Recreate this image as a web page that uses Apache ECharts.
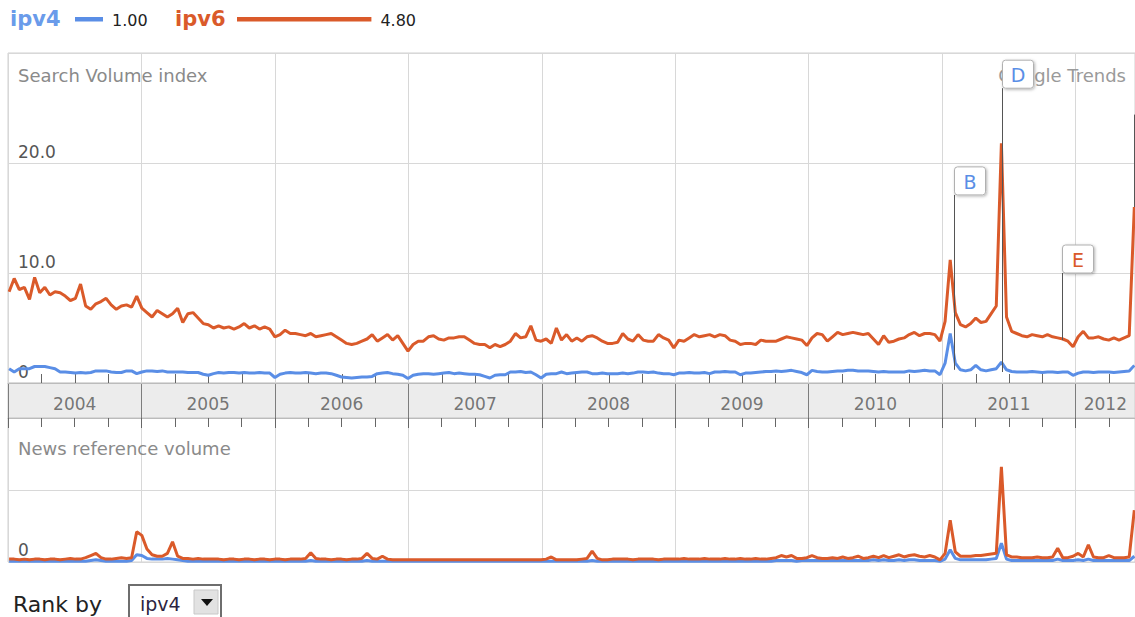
<!DOCTYPE html>
<html><head><meta charset="utf-8">
<script src="https://cdn.jsdelivr.net/npm/echarts@6/dist/echarts.min.js"></script>
<style>html,body{margin:0;padding:0;background:#fff;}#c{width:1135px;height:617px;}</style>
</head><body><div id="c"></div>
<script>
// weekly Google Trends samples, read every second week
const startDate = '2004-01-04';
const stepDays = 14;

const ipv4 = [1.3,1.0,1.3,1.3,1.3,1.5,1.5,1.5,1.4,1.3,
 1.0,1.0,0.95,0.9,0.95,0.9,0.95,1.1,1.1,1.1,
 1.0,0.95,0.95,1.1,1.1,0.85,1.0,1.1,1.1,1.05,
 1.1,1.0,1.0,1.0,1.0,0.95,0.95,0.95,0.8,0.7,
 0.85,0.95,0.9,0.95,0.95,0.9,0.95,0.9,0.9,0.95,
 0.9,0.9,0.5,0.8,0.9,0.95,0.9,0.9,0.95,0.9,
 0.85,0.9,0.9,0.85,0.7,0.55,0.5,0.45,0.5,0.55,
 0.55,0.6,0.85,0.9,0.95,0.85,0.8,0.7,0.4,0.7,
 0.8,0.85,0.85,0.8,0.85,0.9,0.95,0.85,0.9,0.85,
 0.8,0.8,0.75,0.6,0.45,0.7,0.75,0.75,1.0,1.0,
 1.05,0.95,1.0,0.75,0.45,0.8,0.85,0.85,1.0,0.85,
 0.9,0.95,1.0,1.0,0.85,0.85,0.9,0.85,0.85,0.85,
 0.9,0.85,0.9,1.0,1.0,0.95,1.0,0.9,0.85,0.85,
 0.75,0.9,0.9,0.95,0.9,0.9,0.95,0.85,1.0,1.0,
 1.05,1.0,1.0,0.75,0.9,0.9,0.95,1.0,1.05,1.05,
 1.1,1.05,1.1,1.15,1.05,0.95,0.75,1.15,1.05,1.0,
 1.0,1.05,1.1,1.1,1.15,1.15,1.1,1.1,1.1,1.05,
 1.0,1.05,1.0,1.0,1.0,1.0,1.1,1.05,1.1,1.15,
 1.1,1.1,0.75,1.8,4.5,1.8,1.2,1.1,1.2,1.6,
 1.2,1.1,1.2,1.3,1.9,1.2,1.05,1.0,1.0,1.0,
 1.05,1.0,0.95,1.0,1.0,0.95,1.0,1.0,0.7,0.9,
 1.0,1.0,0.95,1.0,1.0,1.0,0.95,1.0,1.05,1.1,
 1.6];

const ipv6 = [8.3,9.5,8.5,8.7,7.6,9.6,8.2,8.7,8.0,8.3,
 8.2,7.9,7.5,7.7,9.0,7.0,6.7,7.2,7.4,7.7,
 7.1,6.7,7.0,7.1,6.9,7.9,6.8,6.4,6.0,6.6,
 6.3,6.0,6.3,6.8,5.5,6.3,6.4,5.9,5.4,5.3,
 5.0,5.2,5.0,5.1,4.9,5.1,5.4,5.0,5.2,4.9,
 5.1,4.9,4.2,4.4,4.8,4.5,4.5,4.4,4.3,4.5,
 4.2,4.3,4.4,4.5,4.2,3.9,3.6,3.5,3.6,3.8,
 4.0,4.4,3.8,4.1,4.4,3.9,4.3,3.6,2.9,3.5,
 3.8,3.8,4.2,4.3,4.0,3.9,4.1,4.1,4.2,4.2,
 3.9,3.6,3.5,3.5,3.2,3.5,3.3,3.5,3.8,4.5,
 4.1,4.2,5.2,3.9,3.8,4.0,3.6,5.0,3.9,4.4,
 3.8,4.1,3.8,4.2,4.3,4.1,3.8,3.6,3.6,3.7,
 4.5,4.0,3.8,4.4,3.9,3.8,3.8,4.4,4.1,3.9,
 3.2,3.9,3.8,4.1,4.4,4.2,4.3,4.4,4.2,4.4,
 4.3,3.9,3.8,3.5,3.6,3.6,3.5,3.9,3.8,3.8,
 3.8,4.0,4.2,4.1,4.0,3.9,3.4,4.1,4.5,4.4,
 3.8,4.2,4.6,4.4,4.5,4.6,4.5,4.4,4.5,4.0,
 3.5,4.3,3.7,3.8,4.0,4.1,4.4,4.6,4.3,4.5,
 4.5,4.4,3.8,5.6,11.2,6.4,5.3,5.1,5.4,5.9,
 5.5,5.6,6.3,7.0,21.8,6.0,4.7,4.5,4.3,4.2,
 4.4,4.3,4.2,4.4,4.2,4.1,4.0,3.8,3.3,4.2,
 4.7,4.1,4.1,4.2,4.0,3.9,4.1,3.9,4.1,4.3,
 16.0];

const news4 = [0.1,0.1,0.1,0.1,0.1,0.1,0.1,0.1,0.1,0.1,
 0.1,0.1,0.1,0.1,0.1,0.1,0.2,0.3,0.2,0.1,
 0.1,0.1,0.1,0.1,0.2,1.0,0.9,0.5,0.4,0.4,
 0.4,0.5,0.4,0.3,0.2,0.1,0.1,0.1,0.1,0.1,
 0.1,0.1,0.1,0.1,0.1,0.1,0.1,0.1,0.1,0.1,
 0.1,0.1,0.1,0.1,0.1,0.1,0.1,0.1,0.1,0.2,
 0.1,0.1,0.1,0.1,0.1,0.1,0.1,0.1,0.1,0.1,
 0.2,0.1,0.1,0.1,0.1,0.1,0.1,0.1,0.1,0.1,
 0.1,0.1,0.1,0.1,0.1,0.1,0.1,0.1,0.1,0.1,
 0.1,0.1,0.1,0.1,0.1,0.1,0.1,0.1,0.1,0.1,
 0.1,0.1,0.1,0.1,0.1,0.1,0.1,0.1,0.1,0.1,
 0.1,0.1,0.1,0.1,0.2,0.1,0.1,0.1,0.1,0.1,
 0.1,0.1,0.1,0.1,0.1,0.1,0.1,0.1,0.1,0.1,
 0.1,0.1,0.1,0.1,0.1,0.1,0.1,0.1,0.1,0.1,
 0.1,0.1,0.1,0.1,0.1,0.1,0.1,0.1,0.1,0.1,
 0.2,0.2,0.2,0.2,0.1,0.2,0.2,0.2,0.2,0.2,
 0.2,0.2,0.2,0.2,0.2,0.2,0.2,0.2,0.2,0.3,
 0.2,0.3,0.2,0.2,0.3,0.2,0.3,0.3,0.2,0.2,
 0.2,0.2,0.1,0.4,1.7,0.5,0.3,0.3,0.3,0.3,
 0.3,0.3,0.4,0.5,2.6,0.4,0.2,0.2,0.2,0.2,
 0.2,0.2,0.2,0.2,0.2,0.4,0.2,0.2,0.2,0.3,
 0.2,0.4,0.2,0.2,0.2,0.2,0.2,0.2,0.2,0.2,
 0.8];

const news6 = [0.4,0.4,0.3,0.4,0.3,0.4,0.4,0.3,0.4,0.4,
 0.3,0.4,0.5,0.4,0.4,0.6,0.9,1.2,0.6,0.4,
 0.4,0.5,0.6,0.5,0.6,4.2,3.7,1.8,1.0,0.8,
 0.8,1.2,2.8,0.8,0.5,0.5,0.4,0.5,0.4,0.4,
 0.4,0.4,0.3,0.4,0.4,0.3,0.4,0.4,0.3,0.4,
 0.4,0.3,0.4,0.4,0.3,0.4,0.4,0.4,0.5,1.3,
 0.5,0.4,0.4,0.3,0.4,0.4,0.3,0.4,0.4,0.5,
 1.2,0.5,0.4,0.8,0.4,0.3,0.3,0.3,0.3,0.3,
 0.3,0.3,0.3,0.3,0.3,0.3,0.3,0.3,0.3,0.3,
 0.3,0.3,0.3,0.3,0.3,0.3,0.3,0.3,0.3,0.3,
 0.3,0.3,0.3,0.3,0.3,0.4,0.7,0.3,0.3,0.3,
 0.3,0.3,0.4,0.5,1.5,0.5,0.3,0.3,0.4,0.4,
 0.4,0.4,0.3,0.4,0.4,0.4,0.4,0.3,0.4,0.4,
 0.4,0.4,0.5,0.4,0.4,0.4,0.5,0.4,0.4,0.4,
 0.5,0.4,0.4,0.5,0.4,0.4,0.5,0.4,0.4,0.5,
 0.6,0.9,0.7,0.9,0.5,0.5,0.6,0.9,0.6,0.5,
 0.5,0.6,0.5,0.7,0.5,0.6,0.8,0.5,0.6,0.8,
 0.6,0.9,0.6,0.8,1.0,0.7,0.9,1.0,0.8,0.7,
 0.9,0.7,0.3,1.2,5.8,1.4,0.8,0.8,0.8,0.9,
 0.9,1.0,1.1,1.2,13.2,1.0,0.7,0.7,0.6,0.6,
 0.6,0.7,0.6,0.6,0.7,1.9,0.6,0.6,0.8,1.2,
 0.7,2.4,0.7,0.6,0.6,0.9,0.6,0.6,0.6,0.7,
 7.2];

const yearLabels = ['2004','2005','2006','2007','2008','2009','2010','2011','2012'];
const legendNames = ['ipv4','ipv6'];
const legendValues = [1.00, 4.80];
const mainAxisMax = 30;
const newsAxisMax = 20;

const annLetters = ['B','D','E','F'];
const annDates = ['2011-02-02','2011-06-13','2011-11-24','2012-06-08'];
const annTop = [17.1, 26.8, 10.0, 24.4];
const annBottom = [1.2, 1.0, 3.9, 16.0];
const annSeries = ['ipv4','ipv4','ipv6','ipv6'];

const BLUE = '#5A8EE6';
const ORANGE = '#DA5A2A';
const FONT = '"DejaVu Sans", Verdana, sans-serif';

function toYear(ms){
  const dt = new Date(ms);
  const y = dt.getUTCFullYear();
  const s = Date.UTC(y,0,1), e = Date.UTC(y+1,0,1);
  return y + (ms - s)/(e - s);
}
const t0 = Date.parse(startDate + 'T00:00:00Z');
const xs = ipv6.map((_, i) => toYear(t0 + i*stepDays*86400000));
const xMin = 2004, xMax = 2012.445;
const W = 1135;

const yearCenters = yearLabels.map(y => {
  const s = Math.max(+y, xMin), e = Math.min(+y + 1, xMax);
  return [(s + e)/2, 0.5];
});
// quarter tick positions above the year band
const quarterTicks = [];
yearLabels.forEach(y => [0.25, 0.5, 0.75].forEach(q => { if (+y + q < xMax) quarterTicks.push([+y + q, 0]); }));

const pair = arr => arr.map((v, i) => [xs[i], v]);
const GRIDC = '#d8d8d8';

const chart = echarts.init(document.getElementById('c'), null, {renderer:'svg'});

const legendX = [10, 175];
const barX = [75, 237];
const legendGraphics = [];
legendNames.forEach((n, i) => {
  const col = i === 0 ? '#6A9BEA' : ORANGE;
  const barCol = i === 0 ? BLUE : ORANGE;
  legendGraphics.push({type:'text', x: legendX[i], y: 19, style:{text:n, fill:col, font:'bold 21px ' + FONT, verticalAlign:'middle'}});
  const bw = legendValues[i] * 28;
  legendGraphics.push({type:'rect', shape:{x:barX[i], y:17, width:bw, height:4.5}, style:{fill:barCol}});
  legendGraphics.push({type:'text', x: barX[i] + bw + 9, y: 20, style:{text:legendValues[i].toFixed(2), fill:'#222', font:'16px ' + FONT, verticalAlign:'middle'}});
});

const option = {
  animation: false,
  backgroundColor: '#fff',
  grid: [
    {left: 8, top: 53, width: 1127, height: 330, show: true, borderColor: '#d0d0d0', borderWidth: 1, outerBoundsMode: 'none'},
    {left: 8, top: 383, width: 1127, height: 35, show: true, backgroundColor: '#ececec', borderColor: '#cfcfcf', borderWidth: 1, outerBoundsMode: 'none'},
    {left: 8, top: 418, width: 1127, height: 144, show: true, borderColor: '#d0d0d0', borderWidth: 1, outerBoundsMode: 'none'}
  ],
  xAxis: [
    {type:'value', gridIndex:0, min:xMin, max:xMax, interval:1, position:'bottom',
     axisLine:{show:true, onZero:false, lineStyle:{color:'#bbb'}},
     axisTick:{show:false}, axisLabel:{show:false},
     splitLine:{show:true, lineStyle:{color:GRIDC}}},
    {type:'value', gridIndex:1, min:xMin, max:xMax, interval:1, position:'top',
     axisLine:{show:false, onZero:false}, axisTick:{show:false}, axisLabel:{show:false},
     splitLine:{show:true, lineStyle:{color:'#7d7d7d', width:1}}},
    {type:'value', gridIndex:2, min:xMin, max:xMax, interval:1, position:'top',
     axisLine:{show:true, onZero:false, lineStyle:{color:'#bbb'}},
     axisTick:{show:true, inside:true, length:10, lineStyle:{color:'#666'}},
     minorTick:{show:true, splitNumber:4, length:9, lineStyle:{color:'#666'}},
     axisLabel:{show:false}, splitLine:{show:true, lineStyle:{color:GRIDC}}}
  ],
  yAxis: [
    {type:'value', gridIndex:0, min:0, max:mainAxisMax, interval:10,
     axisLine:{show:false}, axisTick:{show:false},
     splitLine:{show:true, lineStyle:{color:GRIDC}},
     axisLabel:{inside:true, margin:10, color:'#555', fontSize:17, fontFamily:FONT,
       verticalAlign:'bottom', padding:[0,0,3,0],
       formatter: v => v === 0 ? '0' : (v >= mainAxisMax ? '' : v.toFixed(1))}},
    {type:'value', gridIndex:1, min:0, max:1, show:false},
    {type:'value', gridIndex:2, min:0, max:newsAxisMax, interval:10,
     axisLine:{show:false}, axisTick:{show:false},
     splitLine:{show:true, lineStyle:{color:GRIDC}},
     axisLabel:{inside:true, margin:10, color:'#555', fontSize:17, fontFamily:FONT,
       verticalAlign:'bottom', padding:[0,0,4,0],
       formatter: v => v === 0 ? '0' : ''}}
  ],
  series: [
    {type:'custom', xAxisIndex:0, yAxisIndex:0, z:2, clip:false, silent:true, data: quarterTicks,
     renderItem: (params, api) => {
       const p = api.coord([api.value(0), api.value(1)]);
       const x = Math.round(p[0]) + 0.5;
       return {type:'line', shape:{x1:x, y1:p[1], x2:x, y2:p[1]-9}, style:{stroke:'#666', lineWidth:1}};
     }},
    {type:'line', name:'ipv4', xAxisIndex:0, yAxisIndex:0, data:pair(ipv4), symbol:'none',
     lineStyle:{color:BLUE, width:3}, itemStyle:{color:BLUE}, z:3},
    {type:'line', name:'ipv6', xAxisIndex:0, yAxisIndex:0, data:pair(ipv6), symbol:'none',
     lineStyle:{color:ORANGE, width:3}, itemStyle:{color:ORANGE}, z:4},
    {type:'scatter', xAxisIndex:1, yAxisIndex:1, data:yearCenters, symbolSize:1,
     itemStyle:{color:'rgba(0,0,0,0)'}, silent:true,
     label:{show:true, position:'inside', offset:[0,3], formatter: p => yearLabels[p.dataIndex],
       color:'#555', fontSize:17, fontFamily:FONT}},
    {type:'line', name:'ipv4 news', xAxisIndex:2, yAxisIndex:2, data:pair(news4), symbol:'none',
     lineStyle:{color:BLUE, width:3}, itemStyle:{color:BLUE}, z:3},
    {type:'line', name:'ipv6 news', xAxisIndex:2, yAxisIndex:2, data:pair(news6), symbol:'none',
     lineStyle:{color:ORANGE, width:3}, itemStyle:{color:ORANGE}, z:4},
    {type:'custom', xAxisIndex:0, yAxisIndex:0, z:20, clip:false,
     data: annDates.map((d, i) => [toYear(Date.parse(d + 'T00:00:00Z')), annTop[i], annBottom[i], i]),
     renderItem: (params, api) => {
       const top = api.coord([api.value(0), api.value(1)]);
       const bot = api.coord([api.value(0), api.value(2)]);
       const i = api.value(3);
       const col = annSeries[i] === 'ipv4' ? BLUE : ORANGE;
       const x = Math.round(top[0]) + 0.5;
       const children = [
         {type:'line', shape:{x1:x, y1:top[1], x2:x, y2:bot[1]}, style:{stroke:'#555', lineWidth:1}}
       ];
       if (x + 31 <= W) {
         children.push(
           {type:'rect', shape:{x:x, y:top[1]-28, width:31, height:28, r:3},
            style:{fill:'#fff', stroke:'#b0b0b0', lineWidth:1, shadowBlur:3, shadowOffsetX:1, shadowOffsetY:1, shadowColor:'rgba(0,0,0,0.3)'}},
           {type:'text', style:{text:annLetters[i], x:x+15.5, y:top[1]-13, align:'center', verticalAlign:'middle', fill:col, font:'19px ' + FONT}});
       }
       return {type:'group', children};
     }}
  ],
  graphic: [
    ...legendGraphics,
    {type:'text', x:18, y:75, z:1, style:{text:'Search Volume index', fill:'#8a8a8a', font:'18px ' + FONT, verticalAlign:'middle'}},
    {type:'text', x:1126, y:75, z:1, style:{text:'Google Trends', fill:'#9a9a9a', font:'18px ' + FONT, align:'right', verticalAlign:'middle'}},
    {type:'text', x:18, y:448, z:1, style:{text:'News reference volume', fill:'#8a8a8a', font:'18px ' + FONT, verticalAlign:'middle'}},
    {type:'text', x:13, y:604, style:{text:'Rank by', fill:'#222', font:'22px ' + FONT, verticalAlign:'middle'}},
    {type:'rect', shape:{x:129, y:585, width:92, height:40}, style:{fill:'#fff', stroke:'#6e6e6e', lineWidth:2}},
    {type:'rect', shape:{x:194, y:590, width:24, height:24}, style:{fill:'#e2e2e2', stroke:'#c8c8c8', lineWidth:1}},
    {type:'polygon', shape:{points:[[201,599],[213,599],[207,606]]}, style:{fill:'#111'}},
    {type:'text', x:140, y:604, style:{text:'ipv4', fill:'#2d2440', font:'19px ' + FONT, verticalAlign:'middle'}}
  ]
};
chart.setOption(option);
</script>
</body></html>
